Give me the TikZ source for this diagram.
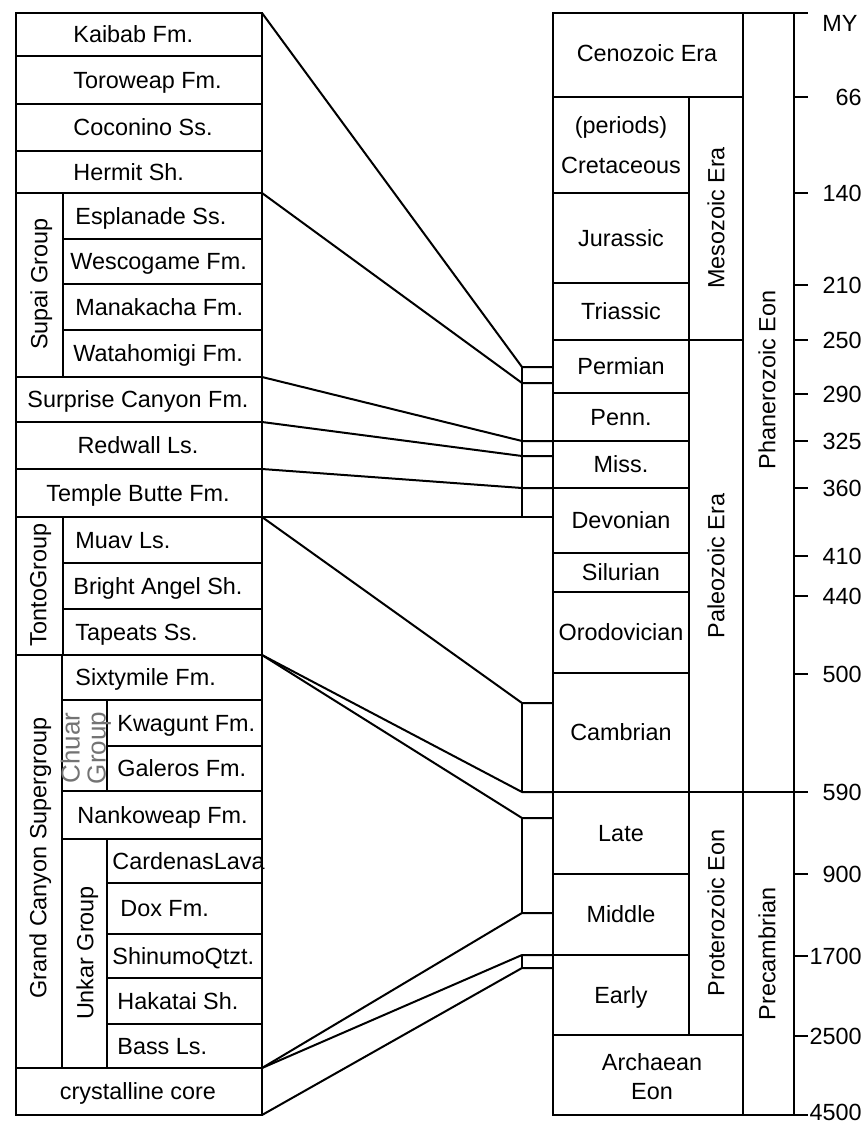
\documentclass[tikz,border=0pt]{standalone}
\usepackage{fontspec}
\setmainfont{Liberation Sans}
\begin{document}
\begin{tikzpicture}[
  x=0.5pt,
  y=-0.5pt,
  box/.style={draw, line width=1pt},
  corr/.style={draw, line width=1pt, line join=round},
  txt/.style={font=\fontsize{11.7}{14}\selectfont, inner sep=0pt},
  unittext/.style={txt, text height=8.4pt, text depth=0pt},
  lefttext/.style={unittext, anchor=west},
  grouptext/.style={unittext, rotate=90},
  ticktext/.style={unittext, anchor=east}
]
\useasboundingbox (0,0) rectangle (867,1123);

% left column: formations
\foreach \ya/\yb/\xa/\xt/\nm/\lbl in {
  13/56/16/73/kaibab/Kaibab Fm.,
  56/104/16/73/toroweap/Toroweap Fm.,
  104/151/16/73/coconino/Coconino Ss.,
  151/193/16/73/hermit/Hermit Sh.,
  193/239/63/75/esplanade/Esplanade Ss.,
  239/284/63/70/wescogame/Wescogame Fm.,
  284/330/63/75/manakacha/Manakacha Fm.,
  330/377/63/73/watahomigi/Watahomigi Fm.,
  517/563/63/75/muav/Muav Ls.,
  563/609/63/73/brightangel/Bright Angel Sh.,
  609/655/63/75/tapeats/Tapeats Ss.,
  655/700/62/75/sixtymile/Sixtymile Fm.,
  700/746/107/117/kwagunt/Kwagunt Fm.,
  746/791/107/117/galeros/Galeros Fm.,
  791/839/62/77/nankoweap/Nankoweap Fm.,
  839/883/107/112/cardenas/CardenasLava,
  883/934/107/120/dox/Dox Fm.,
  934/978/107/112/shinumo/ShinumoQtzt.,
  978/1024/107/117/hakatai/Hakatai Sh.,
  1024/1068/107/117/bass/Bass Ls.} {
  \draw[box] (\xa,\ya) rectangle (262,\yb);
  \node[lefttext] (\nm) at (\xt,{(\ya+\yb)/2}) {\lbl};
}
\foreach \ya/\yb/\nm/\lbl in {
  377/422/surprise/Surprise Canyon Fm.,
  422/469/redwall/Redwall Ls.,
  469/517/templebutte/Temple Butte Fm.,
  1068/1115/crystalline/crystalline core} {
  \draw[box] (16,\ya) rectangle (262,\yb);
  \node[unittext] (\nm) at (138,{(\ya+\yb)/2}) {\lbl};
}

% left column: groups
\draw[box] (16,193) rectangle (63,377);
\node[grouptext] (supai) at (39,284) {Supai Group};
\draw[box] (16,517) rectangle (63,655);
\node[grouptext] (tonto) at (38,585) {TontoGroup};
\draw[box] (16,655) rectangle (62,1068);
\node[grouptext] (grandcanyon) at (38,858) {Grand Canyon Supergroup};
\draw[box] (62,700) rectangle (107,791);
\node[txt, rotate=90, align=center, text=black!55,
  font=\fontsize{13}{13}\selectfont] (chuar) at (86,748) {Chuar\\Group};
\draw[box] (62,839) rectangle (107,1068);
\node[grouptext] (unkar) at (85,953) {Unkar Group};

% right column: periods
\foreach \ya/\yb/\nm/\lbl in {
  193/283/jurassic/Jurassic,
  283/340/triassic/Triassic,
  340/393/permian/Permian,
  393/441/penn/Penn.,
  441/488/miss/Miss.,
  488/553/devonian/Devonian,
  553/592/silurian/Silurian,
  592/673/ordovician/Orodovician,
  673/792/cambrian/Cambrian,
  792/874/late/Late,
  874/955/middle/Middle,
  955/1035/early/Early} {
  \draw[box] (553,\ya) rectangle (689,\yb);
  \node[unittext] (\nm) at (621,{(\ya+\yb)/2}) {\lbl};
}
\draw[box] (553,97) rectangle (689,193);
\node[txt, align=center, font=\fontsize{11.7}{20}\selectfont] (cretaceous) at (621,145) {(periods)\\Cretaceous};

% right column: eras and eons
\draw[box] (553,13) rectangle (743,97);
\node[unittext] (cenozoic) at (647,53) {Cenozoic Era};
\draw[box] (689,97) rectangle (743,340);
\node[grouptext] (mesozoic) at (716,218) {Mesozoic Era};
\draw[box] (689,340) rectangle (743,792);
\node[grouptext] (paleozoic) at (716,566) {Paleozoic Era};
\draw[box] (689,792) rectangle (743,1035);
\node[grouptext] (proterozoic) at (716,913) {Proterozoic Eon};
\draw[box] (553,1035) rectangle (743,1115);
\node[txt, align=center, font=\fontsize{11.7}{14.5}\selectfont] (archaean) at (652,1077) {Archaean\\Eon};
\draw[box] (743,13) rectangle (794,792);
\node[grouptext] (phanerozoic) at (767,380) {Phanerozoic Eon};
\draw[box] (743,792) rectangle (794,1115);
\node[grouptext] (precambrian) at (767,954) {Precambrian};

% time scale
\draw[box] (794,13) -- (808,13);
\node[unittext, anchor=west] (mylabel) at (822,23) {MY};
\foreach \y/\ty/\my in {97/97/66, 193/193/140, 285/285/210, 340/340/250,
  394/394/290, 441/441/325, 488/488/360, 556/556/410, 596/596/440,
  674/674/500, 792/792/590, 874/874/900, 956/956/1700, 1036/1036/2500,
  1115/1112/4500} {
  \draw[box] (794,\y) -- (808,\y);
  \node[ticktext] (my\my) at (862,\ty) {\my};
}

% correlation lines
\foreach \nm/\y in {kaibab/13, supai/193, surprise/377, redwall/422,
  temple/469, tonto/517, sixty/655, core/1068, base/1115}
  \coordinate (l-\nm) at (262,\y);
\foreach \i/\y in {1/367, 2/383, 3/441, 4/456, 5/488, 6/517, 7/703,
  8/792, 9/818, 10/913, 11/955, 12/968} {
  \coordinate (b\i) at (522,\y);
  \coordinate (r\i) at (553,\y);
}
\foreach \nm/\i in {kaibab/1, supai/2, surprise/3, redwall/4, temple/5,
  tonto/7, sixty/8, sixty/9, core/10, core/11, base/12}
  \draw[corr] (l-\nm) -- (b\i) -- (r\i);
\draw[corr] (l-tonto) -- (r6);
\draw[corr] (b1) -- (b6);
\draw[corr] (b7) -- (b8);
\draw[corr] (b9) -- (b10);
\draw[corr] (b11) -- (b12);
\end{tikzpicture}
\end{document}
